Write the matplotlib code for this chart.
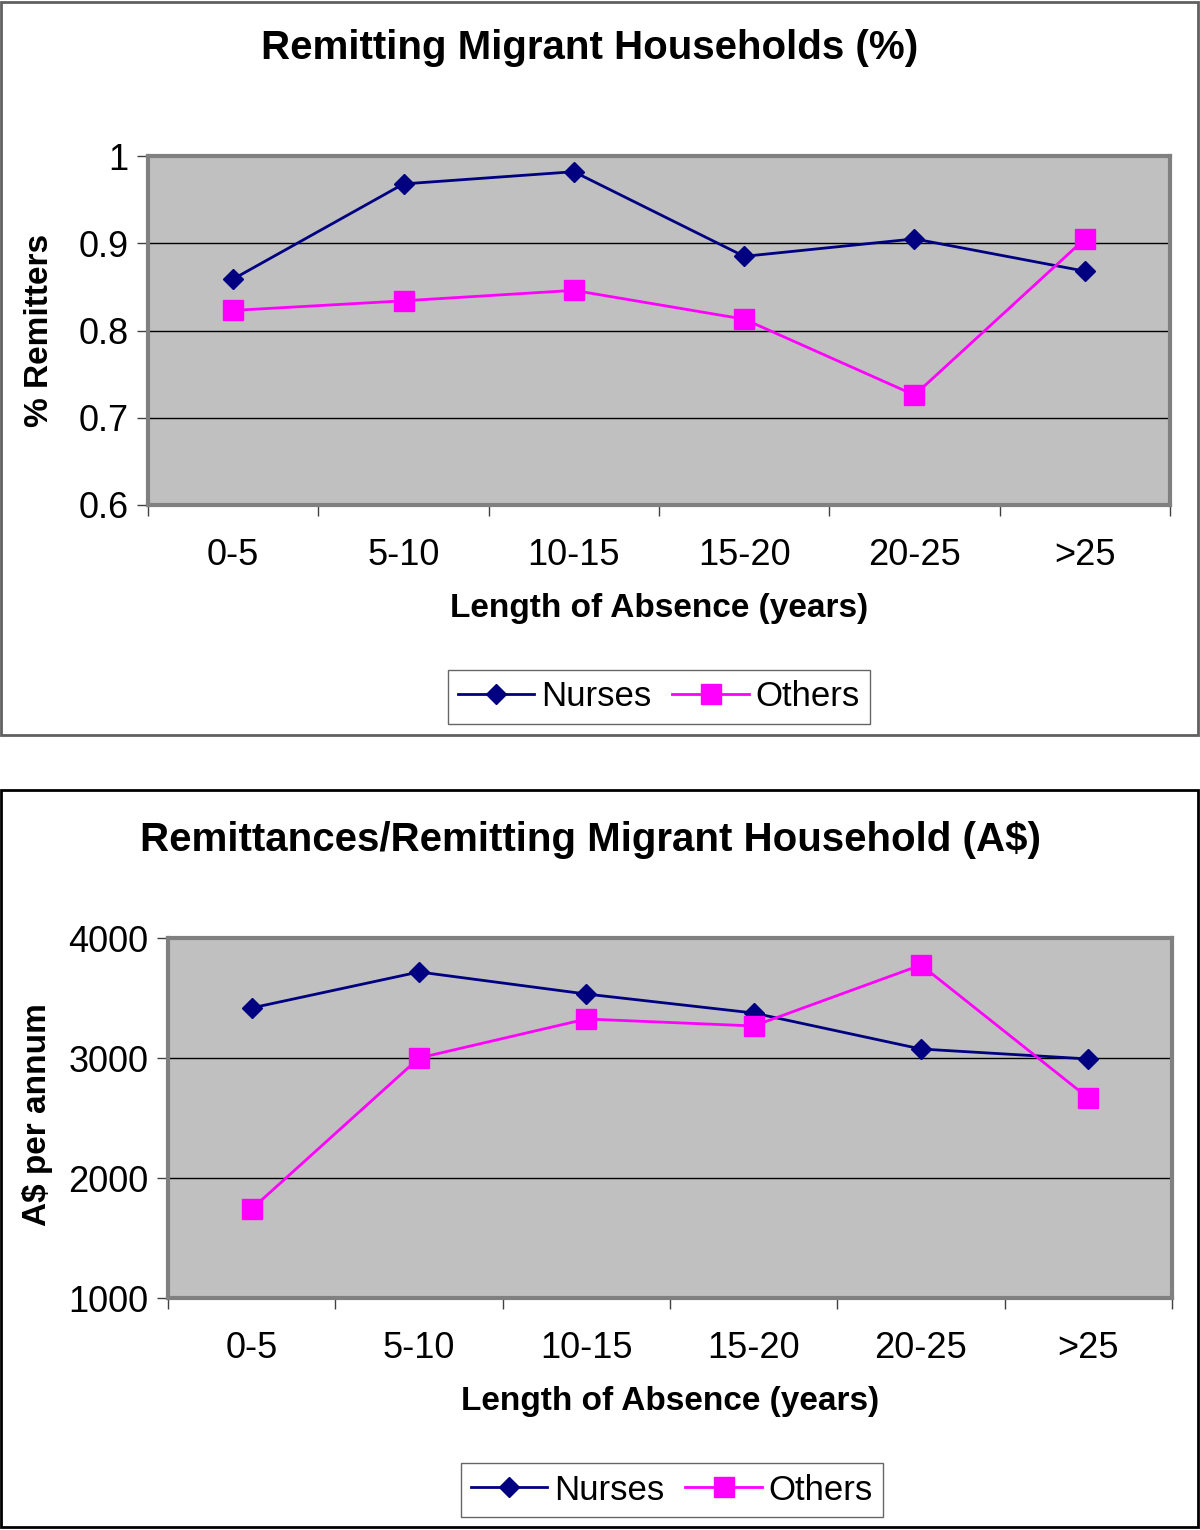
import matplotlib.pyplot as plt
from matplotlib.patches import Rectangle
from matplotlib.ticker import FixedLocator, NullFormatter

plt.rcParams['font.family'] = ['Liberation Sans', 'DejaVu Sans']

categories = ['0-5', '5-10', '10-15', '15-20', '20-25', '>25']
share_nurses = [0.859, 0.968, 0.982, 0.885, 0.905, 0.868]
share_others = [0.823, 0.834, 0.846, 0.813, 0.726, 0.905]
amount_nurses = [3417, 3717, 3533, 3375, 3075, 2992]
amount_others = [1742, 3000, 3325, 3267, 3775, 2667]

NAVY = '#000080'
MAGENTA = '#FF00FF'

fig = plt.figure(figsize=(12, 15.3), dpi=100)
fig.patch.set_facecolor('white')

# panel frames
fig.patches.append(Rectangle((0.001, 1 - 735 / 1530), 0.997, 735 / 1530 - 0.001,
                             transform=fig.transFigure, fill=False,
                             edgecolor='#606060', lw=2))
fig.patches.append(Rectangle((0.001, 0.002), 0.997, 1 - 790 / 1530 - 0.002,
                             transform=fig.transFigure, fill=False,
                             edgecolor='black', lw=2))


def panel(rect, nurses, others, ylim, yticks, ylabels, title, title_xy,
          legend_xy):
    ax = fig.add_axes(rect)
    x = list(range(len(categories)))
    ax.set_facecolor('#C0C0C0')
    for s in ax.spines.values():
        s.set_color('#808080')
        s.set_linewidth(3)
    ax.plot(x, nurses, color=NAVY, lw=2, marker='D', ms=10, label='Nurses',
            zorder=3)
    ax.plot(x, others, color=MAGENTA, lw=2, marker='s', ms=14, label='Others',
            zorder=3)
    ax.set_xlim(-0.5, len(categories) - 0.5)
    ax.set_ylim(*ylim)
    ax.set_yticks(yticks)
    ax.set_yticklabels(ylabels)
    ax.yaxis.grid(True, color='black', lw=1)
    ax.set_axisbelow(True)
    ax.xaxis.set_major_locator(FixedLocator([i - 0.5 for i in range(len(categories) + 1)]))
    ax.xaxis.set_major_formatter(NullFormatter())
    ax.xaxis.set_minor_locator(FixedLocator(x))
    ax.set_xticklabels(categories, minor=True)
    ax.tick_params(axis='x', which='major', length=8, width=1, color='#404040')
    ax.tick_params(axis='x', which='minor', length=0, pad=24, labelsize=26)
    ax.tick_params(axis='y', length=8, width=1, color='#404040', labelsize=26,
                   pad=6)
    ax.set_xlabel('Length of Absence (years)', fontsize=24, fontweight='bold',
                  labelpad=14)
    fig.text(title_xy[0], title_xy[1], title, ha='center', va='center',
             fontsize=29, fontweight='bold')
    leg = ax.legend(loc='center', bbox_to_anchor=legend_xy,
                    bbox_transform=fig.transFigure, ncol=2, fontsize=25,
                    frameon=True, fancybox=False, edgecolor='#404040',
                    handlelength=2.2, handletextpad=0.2, columnspacing=0.6,
                    borderpad=0.3)
    leg.get_frame().set_linewidth(1)
    return ax


ax1 = panel([148 / 1200, 1 - 505 / 1530, 1022 / 1200, 349 / 1530],
            share_nurses, share_others, (0.6, 1.0),
            [0.6, 0.7, 0.8, 0.9, 1.0], ['0.6', '0.7', '0.8', '0.9', '1'],
            'Remitting Migrant Households (%)', (590 / 1200, 1 - 48 / 1530),
            (659 / 1200, 1 - 697 / 1530))
fig.text(40 / 1200, 1 - 330 / 1530, '% Remitters', rotation=90,
         ha='center', va='center', fontsize=24, fontweight='bold')

ax2 = panel([168 / 1200, 1 - 1298 / 1530, 1004 / 1200, 360 / 1530],
            amount_nurses, amount_others, (1000, 4000),
            [1000, 2000, 3000, 4000], ['1000', '2000', '3000', '4000'],
            'Remittances/Remitting Migrant Household (A$)',
            (591 / 1200, 1 - 840 / 1530), (672 / 1200, 1 - 1490 / 1530))
fig.text(38 / 1200, 1 - 1226 / 1530, 'A$ per annum', rotation=90,
         ha='center', va='bottom', fontsize=24, fontweight='bold')

fig.savefig('out.png', dpi=100, facecolor='white')
